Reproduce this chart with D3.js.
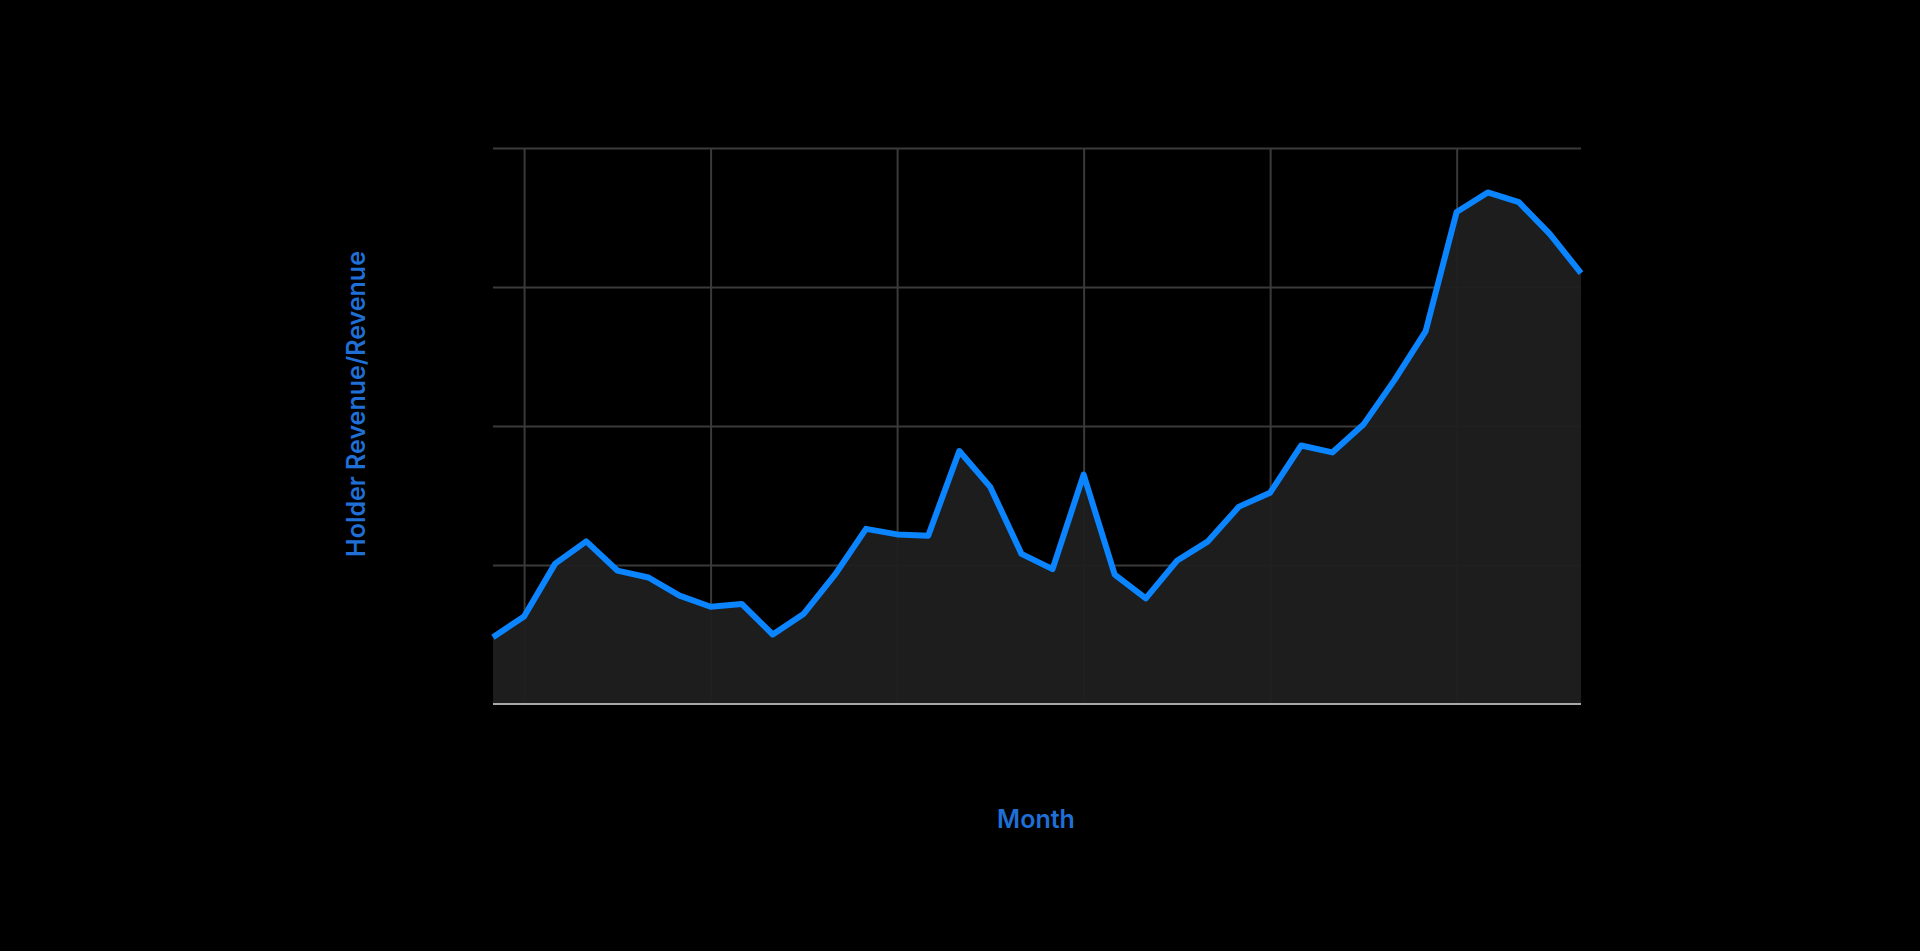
<!DOCTYPE html>
<html><head><meta charset="utf-8">
<script src="https://cdn.jsdelivr.net/npm/d3@7"></script>
<style>body{margin:0;background:#000}</style></head>
<body><svg id="c" width="1920" height="951"></svg>
<script>
const months = ["2021-06","2021-07","2021-08","2021-09","2021-10","2021-11","2021-12","2022-01","2022-02","2022-03","2022-04","2022-05","2022-06","2022-07","2022-08","2022-09","2022-10","2022-11","2022-12","2023-01","2023-02","2023-03","2023-04","2023-05","2023-06","2023-07","2023-08","2023-09","2023-10","2023-11","2023-12","2024-01","2024-02","2024-03","2024-04","2024-05"];
const ratio = [0.48,0.63,1.01,1.17,0.96,0.91,0.78,0.70,0.72,0.50,0.65,0.93,1.26,1.22,1.21,1.82,1.56,1.08,0.97,1.65,0.93,0.76,1.03,1.17,1.42,1.52,1.86,1.81,2.01,2.33,2.68,3.54,3.68,3.61,3.38,3.10];
const gridMonths = ["2021-07","2022-01","2022-07","2023-01","2023-07","2024-01"];
const yTicks = [1,2,3,4];

const svg = d3.select("#c");
const L=493,R=1581,T=148,B=704;
const x = d3.scalePoint().domain(months).range([L,R]);
const y = d3.scaleLinear().domain([0,4]).range([B,T]);
const grid = "#3a3a3a";
svg.append("g").attr("transform",`translate(0,${B})`)
  .call(d3.axisBottom(x).tickValues(gridMonths).tickSize(-(B-T)).tickFormat(""))
  .call(g=>{g.select(".domain").remove();g.selectAll("line").attr("stroke",grid).attr("stroke-width",2);});
svg.append("g").attr("transform",`translate(${L},0)`)
  .call(d3.axisLeft(y).tickValues(yTicks).tickSize(-(R-L)).tickFormat(""))
  .call(g=>{g.select(".domain").remove();g.selectAll("line").attr("stroke",grid).attr("stroke-width",2);});
svg.append("path").datum(ratio)
  .attr("fill","#1f1f1f").attr("opacity",0.95)
  .attr("d",d3.area().x((d,i)=>x(months[i])).y0(B).y1(d=>y(d)));
svg.append("line").attr("x1",L).attr("x2",R).attr("y1",B).attr("y2",B).attr("stroke","#a8a8a8").attr("stroke-width",2);
svg.append("path").datum(ratio)
  .attr("fill","none").attr("stroke","#0a84ff").attr("stroke-width",6).attr("stroke-linejoin","round")
  .attr("d",d3.line().x((d,i)=>x(months[i])).y(d=>y(d)));
svg.append("text").attr("x",1036).attr("y",828).attr("text-anchor","middle")
  .attr("fill","#1f6fd6").attr("font-family","Inter, sans-serif").attr("font-weight",600).attr("font-size",25).text("Month");
svg.append("text").attr("transform","translate(365,404) rotate(-90)").attr("text-anchor","middle")
  .attr("fill","#1f6fd6").attr("font-family","Inter, sans-serif").attr("font-weight",600).attr("font-size",25).text("Holder Revenue/Revenue");
</script></body></html>
